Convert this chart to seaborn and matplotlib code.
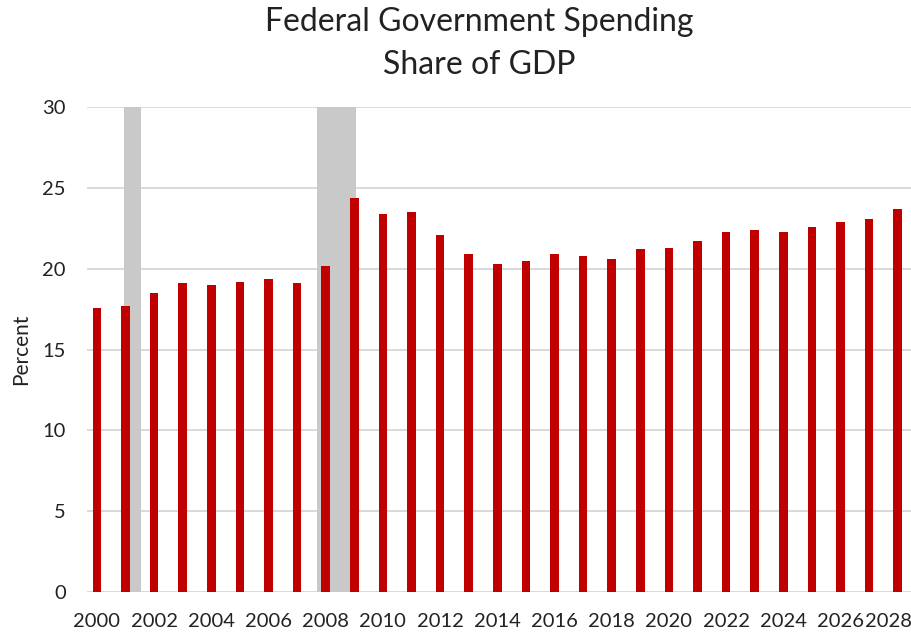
import matplotlib
matplotlib.use('Agg')
import matplotlib.pyplot as plt
import matplotlib.transforms as mtransforms
import pandas as pd
import seaborn as sns

years = list(range(2000, 2029))
spending = [17.6, 17.7, 18.5, 19.1, 19.0, 19.2, 19.4, 19.1, 20.2, 24.4,
            23.4, 23.5, 22.1, 20.9, 20.3, 20.5, 20.9, 20.8, 20.6, 21.2,
            21.3, 21.7, 22.3, 22.4, 22.3, 22.6, 22.9, 23.1, 23.7]
# recession periods (in year units on the x axis)
recessions = [(2000.94, 2001.55), (2007.69, 2009.06)]
tick_years = list(range(2000, 2029, 2))
yticks = [0, 5, 10, 15, 20, 25, 30]

df = pd.DataFrame({'Year': years, 'Spending': spending})

sns.set_style('white')
plt.rcParams['font.family'] = ['Lato', 'DejaVu Sans']

fig = plt.figure(figsize=(9.12, 6.32), dpi=100)
ax = fig.add_axes([0.095, 0.0633, 0.905, 0.767])

for start, end in recessions:
    ax.axvspan(start, end, color='#c9c9c9', lw=0, zorder=1)

sns.barplot(data=df, x='Year', y='Spending', native_scale=True, color='#c00000',
            width=0.3, saturation=1, linewidth=0, ax=ax, zorder=3)

ax.set_xlim(1999.64, 2028.5)
ax.set_ylim(0, 30)
ax.set_yticks(yticks)
ax.set_xticks(tick_years)
ax.set_xticklabels([str(y) for y in tick_years])
ax.yaxis.grid(True, color='#d9d9d9', linewidth=1.4, zorder=0)
ax.set_axisbelow(True)

for side in ['top', 'right', 'left', 'bottom']:
    ax.spines[side].set_visible(False)

ax.tick_params(axis='both', length=0, labelsize=14.5, colors='#222222')
ax.tick_params(axis='x', pad=15)
ax.tick_params(axis='y', pad=15)
ax.set_xlabel('')
ax.set_ylabel('Percent', fontsize=15, color='#222222', labelpad=8)

# nudge the last year label so it stays inside the picture
last = ax.get_xticklabels()[-1]
last.set_transform(last.get_transform() +
                   mtransforms.ScaledTranslation(-9 / 100, 0, fig.dpi_scale_trans))

fig.text(0.525, 0.965, 'Federal Government Spending', ha='center', va='center',
         fontsize=23, color='#222222')
fig.text(0.525, 0.897, 'Share of GDP', ha='center', va='center',
         fontsize=23, color='#222222')

fig.savefig('out.png', dpi=100)
